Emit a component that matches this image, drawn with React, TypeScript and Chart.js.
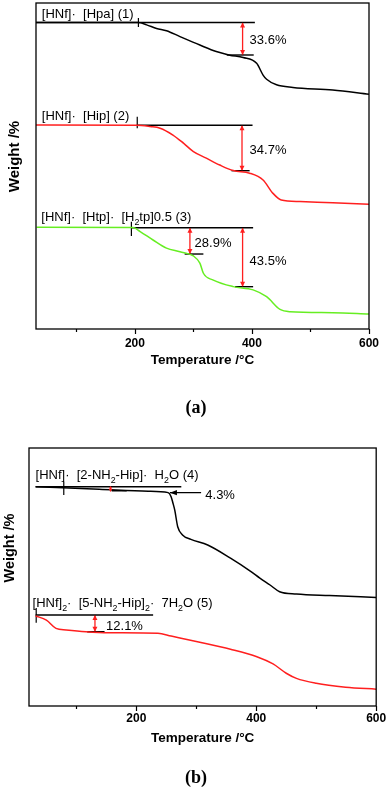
import React, { useEffect, useRef } from 'react';
import { Chart, registerables } from 'chart.js';

Chart.register(...registerables);

const FONT = '"Liberation Sans", Arial, Helvetica, sans-serif';
const SERIF = '"Liberation Serif", "Times New Roman", serif';
const RED = '#ff1f1f';
const GREEN = '#66ee22';
const BLACK = '#000000';

// ---------- shared axis ----------
const xTickValues = [100, 200, 300, 400, 500, 600];
const xTickLabels = [200, 400, 600];

// ---------- panel (a) ----------
const tempA1 = [31, 206, 220, 237, 254, 277, 311, 339, 362, 385, 408, 419, 425, 442, 470, 538, 600];
const weightA1 = [94.0, 94.0, 93.3, 92.2, 91.5, 89.7, 87.1, 85.1, 84.0, 83.3, 81.5, 77.9, 76.6, 74.9, 74.1, 73.3, 72.0];

const tempA2 = [31, 203, 226, 243, 265, 283, 300, 322, 345, 368, 396, 419, 436, 450, 482, 538, 600];
const weightA2 = [62.6, 62.5, 62.1, 61.6, 59.5, 57.0, 54.4, 52.4, 50.3, 48.6, 47.8, 45.7, 41.6, 39.6, 39.1, 38.7, 38.3];

const tempA3 = [32, 197, 209, 231, 254, 277, 300, 311, 317, 334, 368, 402, 425, 448, 465, 538, 600];
const weightA3 = [31.2, 31.1, 29.9, 27.3, 24.8, 23.7, 22.4, 20.2, 17.1, 15.0, 13.0, 12.0, 9.9, 6.0, 5.3, 5.0, 4.6];

// horizontal guide lines [x1, y1, x2, y2]
const guideLinesA = [
  [31, 94.0, 405, 94.0],
  [357, 84.05, 403, 84.05],
  [203, 62.48, 401, 62.48],
  [365, 48.56, 396, 48.56],
  [194, 31.07, 402, 31.07],
  [285, 23.0, 317, 23.0],
  [371, 12.98, 402, 12.98],
];
// vertical onset marks [x, y1, y2]
const onsetMarksA = [
  [206, 95.4, 92.6],
  [204, 65.1, 61.6],
  [194, 32.9, 28.5],
];
// double-headed red arrows [x, yTop, yBottom]
const lossArrowsA = [
  [384, 94.0, 84.05],
  [383, 62.48, 48.56],
  [294, 31.07, 23.0],
  [384, 31.07, 12.98],
];
const lossTextA = ['33.6%', '34.7%', '28.9%', '43.5%'];
const lossTextXA = [396, 396, 302, 396];
const lossTextYA = [88.65, 54.9, 26.3, 20.6];

// compound labels: segments of [text, isSubscript]
const compoundLabelsA: [string, boolean][][] = [
  [['[HNf]·  [Hpa] (1)', false]],
  [['[HNf]·  [Hip] (2)', false]],
  [['[HNf]·  [Htp]·  [H', false], ['2', true], ['tp]0.5 (3)', false]],
];
const compoundXA = [41, 41, 40];
const compoundYA = [95.4, 64.1, 33.2];

// ---------- panel (b) ----------
const tempB4 = [32, 138, 220, 253, 258, 261, 264, 269, 277, 291, 319, 357, 390, 406, 423, 439, 467, 522, 600];
const weightB4 = [85.0, 84.0, 83.2, 82.7, 81.1, 78.7, 76.0, 69.5, 66.3, 64.6, 62.4, 57.3, 52.3, 49.6, 46.9, 44.3, 43.4, 42.8, 42.1];

const tempB5 = [32, 50, 66, 83, 116, 154, 236, 258, 302, 357, 401, 428, 450, 467, 500, 549, 600];
const weightB5 = [34.9, 33.3, 30.1, 29.5, 28.8, 28.4, 28.2, 27.1, 24.9, 22.0, 19.1, 16.3, 12.7, 10.7, 8.8, 7.3, 6.5];

const guideLinesB = [
  [32, 85.0, 275, 85.0],
  [159, 83.45, 184, 83.45],
  [32, 35.3, 228, 35.3],
  [118, 28.8, 147, 28.8],
];
const onsetMarksB = [
  [79, 86.9, 81.8],
  [33, 38.0, 32.3],
];
const lossArrowsB = [
  [157, 85.3, 83.1],
  [131, 35.3, 28.8],
];
// single-headed black pointer [xFrom, xTo, y]
const pointerArrowsB = [[308, 256, 82.7]];
const lossTextB = ['4.3%', '12.1%'];
const lossTextXB = [315, 149.5];
const lossTextYB = [81.8, 30.7];
const compoundLabelsB: [string, boolean][][] = [
  [['[HNf]·  [2-NH', false], ['2', true], ['-Hip]·  H', false], ['2', true], ['O (4)', false]],
  [['[HNf]', false], ['2', true], ['·  [5-NH', false], ['2', true], ['-Hip]', false], ['2', true], ['·  7H', false], ['2', true], ['O (5)', false]],
];
const compoundXB = [32, 27];
const compoundYB = [87.9, 38.5];

interface PanelSpec {
  xMin: number;
  curves: { t: number[]; w: number[]; color: string }[];
  guides: number[][];
  onsets: number[][];
  arrows: number[][];
  pointers: number[][];
  lossText: string[];
  lossX: number[];
  lossY: number[];
  labels: [string, boolean][][];
  labelX: number[];
  labelY: number[];
  padding: { left: number; right: number; top: number; bottom: number };
  tickPad: number;
  titlePad: number;
  yTitle: { x: number; y: number; size: number };
}

const panelA: PanelSpec = {
  xMin: 31,
  curves: [
    { t: tempA1, w: weightA1, color: BLACK },
    { t: tempA2, w: weightA2, color: RED },
    { t: tempA3, w: weightA3, color: GREEN },
  ],
  guides: guideLinesA,
  onsets: onsetMarksA,
  arrows: lossArrowsA,
  pointers: [],
  lossText: lossTextA,
  lossX: lossTextXA,
  lossY: lossTextYA,
  labels: compoundLabelsA,
  labelX: compoundXA,
  labelY: compoundYA,
  padding: { left: 36, right: 23, top: 3, bottom: 51 },
  tickPad: 7.8,
  titlePad: 10.6,
  yTitle: { x: 15, y: 156.5, size: 15 },
};

const panelB: PanelSpec = {
  xMin: 21,
  curves: [
    { t: tempB4, w: weightB4, color: BLACK },
    { t: tempB5, w: weightB5, color: RED },
  ],
  guides: guideLinesB,
  onsets: onsetMarksB,
  arrows: lossArrowsB,
  pointers: pointerArrowsB,
  lossText: lossTextB,
  lossX: lossTextXB,
  lossY: lossTextYB,
  labels: compoundLabelsB,
  labelX: compoundXB,
  labelY: compoundYB,
  padding: { left: 29, right: 11, top: 18, bottom: 33 },
  tickPad: 5.8,
  titlePad: 9.6,
  yTitle: { x: 9.5, y: 118, size: 14.5 },
};

function drawRich(ctx: CanvasRenderingContext2D, segs: [string, boolean][], x: number, y: number, size: number) {
  let cx = x;
  ctx.textAlign = 'left';
  ctx.textBaseline = 'alphabetic';
  for (const [txt, sub] of segs) {
    const fs = sub ? size * 0.68 : size;
    ctx.font = `${fs}px ${FONT}`;
    ctx.fillText(txt, cx, sub ? y + size * 0.3 : y);
    cx += ctx.measureText(txt).width;
  }
}

function makeDecor(p: PanelSpec) {
  return {
    id: 'decor',
    afterDatasetsDraw(chart: any) {
      const { ctx, chartArea: ca, scales } = chart;
      const px = (v: number) => scales.x.getPixelForValue(v);
      const py = (v: number) => scales.y.getPixelForValue(v);
      ctx.save();

      // arrow heads (red, double)
      ctx.fillStyle = RED;
      for (const [x, y1, y2] of p.arrows) {
        const X = px(x);
        const T = py(y1);
        const B = py(y2);
        const small = B - T < 12;
        const len = small ? 2.5 : 5;
        const hw = small ? 1.8 : 2.5;
        ctx.beginPath();
        ctx.moveTo(X, T);
        ctx.lineTo(X - hw, T + len);
        ctx.lineTo(X + hw, T + len);
        ctx.closePath();
        ctx.fill();
        ctx.beginPath();
        ctx.moveTo(X, B);
        ctx.lineTo(X - hw, B - len);
        ctx.lineTo(X + hw, B - len);
        ctx.closePath();
        ctx.fill();
      }
      // pointer heads (black, left-pointing)
      ctx.fillStyle = BLACK;
      for (const [x1, x2, y] of p.pointers) {
        const X = px(x2);
        const Y = py(y);
        const dir = px(x1) > X ? 1 : -1;
        ctx.beginPath();
        ctx.moveTo(X, Y);
        ctx.lineTo(X + dir * 7, Y - 2.6);
        ctx.lineTo(X + dir * 7, Y + 2.6);
        ctx.closePath();
        ctx.fill();
      }

      // loss percentages
      ctx.fillStyle = BLACK;
      ctx.font = `13px ${FONT}`;
      ctx.textAlign = 'left';
      ctx.textBaseline = 'middle';
      p.lossText.forEach((t, i) => ctx.fillText(t, px(p.lossX[i]), py(p.lossY[i])));

      // compound labels
      p.labels.forEach((segs, i) => drawRich(ctx, segs, px(p.labelX[i]), py(p.labelY[i]), 13));

      // frame
      ctx.strokeStyle = BLACK;
      ctx.lineWidth = 1.3;
      ctx.strokeRect(ca.left, ca.top, ca.right - ca.left, ca.bottom - ca.top);

      // tick marks (outward)
      ctx.lineWidth = 1.2;
      for (const v of xTickValues) {
        const x = Math.round(px(v)) + 0.5;
        const len = xTickLabels.includes(v) ? 5 : 3;
        ctx.beginPath();
        ctx.moveTo(x, ca.bottom);
        ctx.lineTo(x, ca.bottom + len);
        ctx.stroke();
      }

      // y title
      ctx.translate(p.yTitle.x, p.yTitle.y);
      ctx.rotate(-Math.PI / 2);
      ctx.font = `bold ${p.yTitle.size}px ${FONT}`;
      ctx.textAlign = 'center';
      ctx.textBaseline = 'middle';
      ctx.fillText('Weight /%', 0, 0);
      ctx.restore();
    },
  };
}

function buildConfig(p: PanelSpec): any {
  const datasets: any[] = [];
  p.curves.forEach((c) =>
    datasets.push({
      data: c.t.map((t, i) => ({ x: t, y: c.w[i] })),
      borderColor: c.color,
      borderWidth: 1.5,
      pointRadius: 0,
      cubicInterpolationMode: 'monotone',
      fill: false,
    })
  );
  const seg = (pts: { x: number; y: number }[], color: string, width: number) =>
    datasets.push({
      data: pts,
      borderColor: color,
      borderWidth: width,
      pointRadius: 0,
      fill: false,
      tension: 0,
      borderCapStyle: 'butt',
    });
  p.guides.forEach(([x1, y1, x2, y2]) => seg([{ x: x1, y: y1 }, { x: x2, y: y2 }], BLACK, 1.4));
  p.onsets.forEach(([x, y1, y2]) => seg([{ x, y: y1 }, { x, y: y2 }], BLACK, 1.2));
  p.arrows.forEach(([x, y1, y2]) => seg([{ x, y: y1 }, { x, y: y2 }], RED, 1.3));
  p.pointers.forEach(([x1, x2, y]) => seg([{ x: x1, y }, { x: x2, y }], BLACK, 1.1));

  return {
    type: 'line',
    data: { datasets },
    options: {
      responsive: false,
      animation: false,
      devicePixelRatio: 1,
      layout: { padding: p.padding },
      plugins: { legend: { display: false }, tooltip: { enabled: false } },
      scales: {
        x: {
          type: 'linear',
          min: p.xMin,
          max: 600,
          afterBuildTicks: (s: any) => {
            s.ticks = xTickValues.map((v) => ({ value: v }));
          },
          afterFit: (s: any) => {
            s.height = 50;
          },
          grid: { display: false, drawTicks: false },
          border: { display: false },
          ticks: {
            padding: p.tickPad,
            autoSkip: false,
            maxRotation: 0,
            minRotation: 0,
            color: BLACK,
            font: { family: FONT, size: 12, weight: 'bold' },
            callback: (v: number) => (xTickLabels.includes(v) ? String(v) : ''),
          },
          title: {
            display: true,
            text: 'Temperature /°C',
            color: BLACK,
            font: { family: FONT, size: 13.5, weight: 'bold' },
            padding: { top: 0, bottom: p.titlePad },
          },
        },
        y: { type: 'linear', display: false, min: 0, max: 100 },
      },
    },
    plugins: [makeDecor(p)],
  };
}

function PanelChart({ spec, top, height }: { spec: PanelSpec; top: number; height: number }) {
  const ref = useRef<HTMLCanvasElement>(null);
  useEffect(() => {
    const chart = new Chart(ref.current as HTMLCanvasElement, buildConfig(spec));
    return () => chart.destroy();
  }, [spec]);
  return (
    <canvas
      ref={ref}
      width={392}
      height={height}
      style={{ position: 'absolute', left: 0, top, width: 392, height, display: 'block' }}
    />
  );
}

const captionStyle: React.CSSProperties = {
  position: 'absolute',
  left: 0,
  width: 392,
  textAlign: 'center',
  fontFamily: SERIF,
  fontWeight: 'bold',
  fontSize: 18,
  lineHeight: '20px',
  color: '#000',
};

export default function App() {
  return (
    <div style={{ position: 'absolute', left: 0, top: 0, width: 392, height: 789, background: '#fff', overflow: 'hidden' }}>
      <PanelChart spec={panelA} top={0} height={430} />
      <div style={{ ...captionStyle, top: 397 }}>(a)</div>
      <PanelChart spec={panelB} top={430} height={359} />
      <div style={{ ...captionStyle, top: 767 }}>(b)</div>
    </div>
  );
}
